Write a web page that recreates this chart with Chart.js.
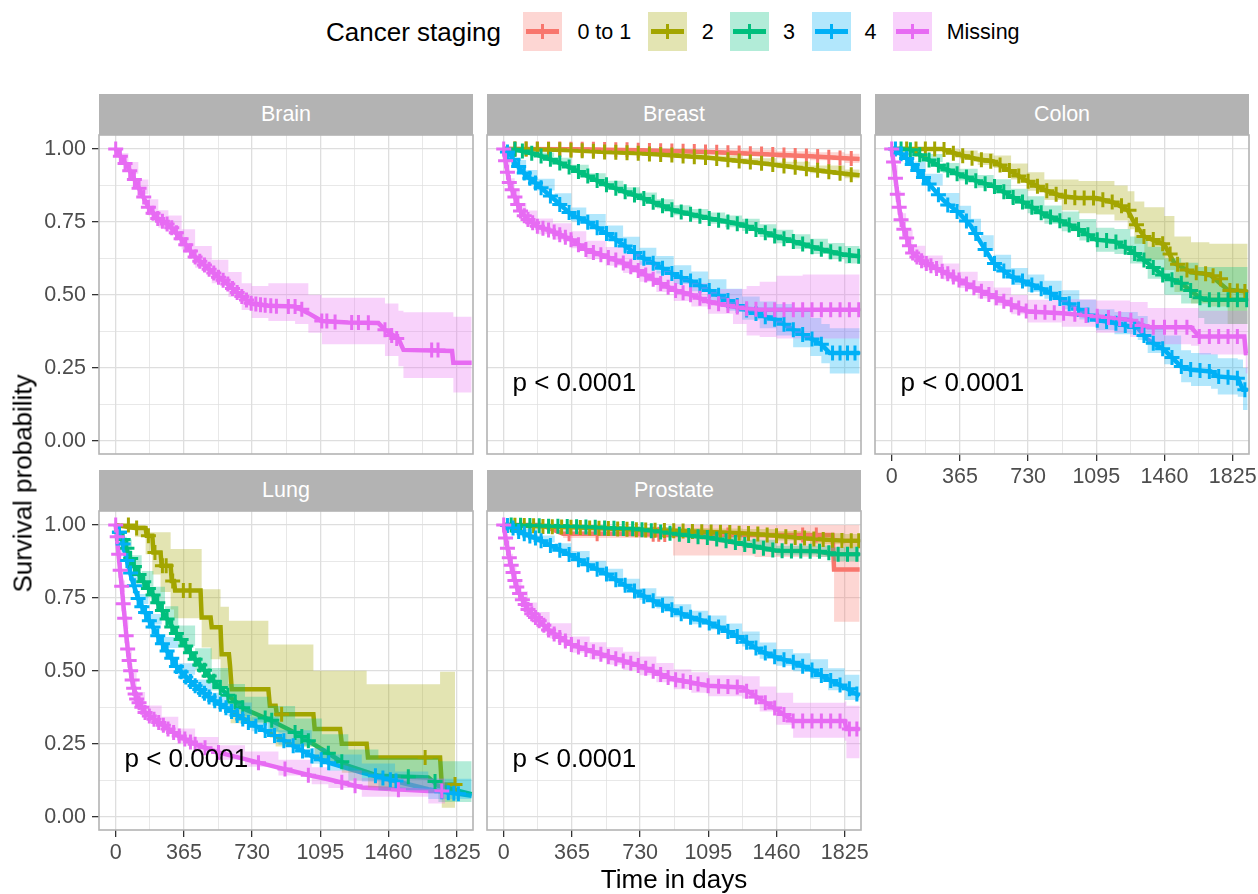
<!DOCTYPE html>
<html>
<head>
<meta charset="utf-8">
<script src="https://cdn.jsdelivr.net/npm/chart.js@4.4.0/dist/chart.umd.min.js"></script>
<style>
  body { margin: 0; background: #fff; width: 1258px; height: 894px; position: relative; overflow: hidden; font-family: 'Liberation Sans', Arial, sans-serif; }
  canvas { position: absolute; }
  .strip { position: absolute; height: 41px; line-height: 41px; background: #B3B3B3; color: #fff; font-size: 21.5px; text-align: center; }
  .lg-title { position: absolute; left: 326px; top: 18px; font-size: 26px; line-height: 29px; color: #000; }
  .lg-key { position: absolute; top: 12px; width: 39px; height: 39px; }
  .lg-key .ln { position: absolute; left: 3px; right: 3px; top: 17px; height: 5px; }
  .lg-key .vt { position: absolute; left: 18px; width: 3px; top: 12px; height: 15px; }
  .lg-text { position: absolute; top: 20px; font-size: 21.5px; line-height: 24px; color: #000; white-space: nowrap; }
  .axis-title { position: absolute; font-size: 26px; line-height: 29px; color: #000; text-align: center; white-space: nowrap; }
</style>
</head>
<body>
<script>
// categories
const stages = ['0 to 1', '2', '3', '4', 'Missing'];
const stageColors = ['#F8766D', '#A3A500', '#00BF7D', '#00B0F6', '#E76BF3'];
const panelNames = ['Brain', 'Breast', 'Colon', 'Lung', 'Prostate'];
const pLabels = ['', 'p < 0.0001', 'p < 0.0001', 'p < 0.0001', 'p < 0.0001'];

// axis ticks
const xTicks = [0, 365, 730, 1095, 1460, 1825];
const yTicks = [0, 0.25, 0.5, 0.75, 1];

// curve rows: [day, survival, lower CI, upper CI]
// censor marks: [day, survival]
const brainMissing = [
  [0, 1, 1, 1], [30, 0.97, 0.955, 0.985], [68, 0.935, 0.915, 0.955], [121, 0.87, 0.845, 0.895],
  [175, 0.80, 0.772, 0.828], [228, 0.76, 0.73, 0.79], [282, 0.74, 0.708, 0.772], [353, 0.69, 0.655, 0.725],
  [425, 0.63, 0.593, 0.667], [514, 0.58, 0.54, 0.62], [603, 0.535, 0.492, 0.578], [674, 0.494, 0.448, 0.54],
  [728, 0.47, 0.42, 0.53], [817, 0.462, 0.41, 0.54], [960, 0.46, 0.40, 0.54], [1031, 0.437, 0.37, 0.50],
  [1103, 0.41, 0.33, 0.49], [1245, 0.405, 0.33, 0.49], [1406, 0.403, 0.33, 0.49], [1441, 0.38, 0.29, 0.47],
  [1513, 0.35, 0.255, 0.445], [1540, 0.311, 0.215, 0.44], [1800, 0.307, 0.215, 0.44], [1807, 0.267, 0.165, 0.425],
  [1905, 0.267, 0.165, 0.425]
];
const brainMissingMarks = [
  [0, 1], [25, 0.975], [50, 0.95], [75, 0.925], [100, 0.895], [125, 0.865], [150, 0.835], [175, 0.80], [200, 0.78],
  [225, 0.762], [250, 0.752], [275, 0.743], [300, 0.73], [325, 0.713], [350, 0.692], [375, 0.672], [400, 0.65],
  [425, 0.63], [450, 0.615], [475, 0.602], [500, 0.588], [525, 0.575], [550, 0.56], [575, 0.55], [600, 0.537],
  [625, 0.522], [650, 0.508], [675, 0.494], [700, 0.482], [725, 0.471], [750, 0.468], [775, 0.466], [800, 0.464],
  [830, 0.462], [860, 0.461], [924, 0.46], [960, 0.46], [996, 0.45], [1103, 0.41], [1130, 0.41], [1174, 0.407],
  [1263, 0.405], [1299, 0.405], [1352, 0.404], [1441, 0.38], [1477, 0.36], [1504, 0.35], [1691, 0.311], [1725, 0.311]
];

const breastStage01 = [
  [0, 1, 1, 1], [365, 0.999, 0.995, 1], [730, 0.996, 0.99, 1], [1095, 0.99, 0.981, 0.998],
  [1460, 0.98, 0.968, 0.992], [1640, 0.975, 0.961, 0.989], [1825, 0.968, 0.952, 0.984], [1905, 0.966, 0.949, 0.983]
];
const breastStage01Marks = [
  [60, 1], [120, 1], [180, 1], [240, 1], [300, 1], [360, 0.999], [420, 0.999], [480, 0.999], [540, 0.998], [600, 0.997],
  [660, 0.997], [720, 0.996], [780, 0.995], [840, 0.994], [900, 0.993], [960, 0.992], [1020, 0.991], [1080, 0.99],
  [1140, 0.989], [1200, 0.987], [1260, 0.986], [1320, 0.984], [1380, 0.983], [1440, 0.981], [1500, 0.979],
  [1560, 0.978], [1620, 0.976], [1680, 0.974], [1740, 0.972], [1800, 0.969], [1860, 0.967]
];
const breastStage2 = [
  [0, 1, 1, 1], [180, 0.999, 0.996, 1], [365, 0.996, 0.992, 1], [548, 0.99, 0.985, 0.995], [730, 0.985, 0.979, 0.991],
  [912, 0.978, 0.971, 0.985], [1095, 0.97, 0.962, 0.978], [1278, 0.958, 0.948, 0.968], [1460, 0.945, 0.934, 0.956],
  [1640, 0.93, 0.917, 0.943], [1825, 0.915, 0.9, 0.93], [1905, 0.91, 0.894, 0.926]
];
const breastStage2Marks = [
  [60, 1], [120, 1], [180, 0.999], [240, 0.998], [300, 0.997], [360, 0.996], [420, 0.994], [480, 0.992], [540, 0.99],
  [600, 0.989], [660, 0.987], [720, 0.985], [780, 0.983], [840, 0.981], [900, 0.979], [960, 0.976], [1020, 0.973],
  [1080, 0.971], [1140, 0.967], [1200, 0.963], [1260, 0.959], [1320, 0.955], [1380, 0.951], [1440, 0.947],
  [1500, 0.942], [1560, 0.937], [1620, 0.932], [1680, 0.927], [1740, 0.922], [1800, 0.917], [1860, 0.912]
];
const breastStage3 = [
  [0, 1, 1, 1], [68, 0.998, 0.99, 1], [180, 0.98, 0.972, 0.988], [270, 0.96, 0.95, 0.97], [362, 0.935, 0.924, 0.946],
  [455, 0.905, 0.893, 0.917], [546, 0.878, 0.865, 0.891], [640, 0.855, 0.841, 0.869], [728, 0.836, 0.821, 0.851],
  [820, 0.812, 0.796, 0.828], [910, 0.79, 0.773, 0.807], [1000, 0.776, 0.758, 0.794], [1094, 0.763, 0.744, 0.782],
  [1185, 0.752, 0.732, 0.772], [1276, 0.74, 0.719, 0.761], [1370, 0.72, 0.698, 0.742], [1459, 0.70, 0.677, 0.723],
  [1550, 0.683, 0.658, 0.708], [1641, 0.666, 0.64, 0.692], [1735, 0.65, 0.622, 0.678], [1825, 0.637, 0.607, 0.667],
  [1905, 0.632, 0.60, 0.664]
];
const breastStage3Marks = [
  [60, 0.999], [100, 0.993], [150, 0.985], [200, 0.976], [250, 0.965], [300, 0.952], [350, 0.938], [400, 0.923],
  [450, 0.907], [500, 0.892], [550, 0.877], [600, 0.865], [650, 0.853], [700, 0.842], [750, 0.83], [800, 0.817],
  [850, 0.805], [900, 0.792], [950, 0.784], [1000, 0.776], [1050, 0.769], [1100, 0.762], [1150, 0.756], [1200, 0.75],
  [1250, 0.744], [1300, 0.735], [1350, 0.724], [1400, 0.713], [1450, 0.702], [1500, 0.692], [1550, 0.683],
  [1600, 0.674], [1650, 0.665], [1700, 0.656], [1750, 0.648], [1800, 0.64], [1850, 0.635], [1900, 0.632]
];
const breastStage4 = [
  [0, 1, 1, 1], [30, 0.985, 0.975, 0.995], [68, 0.946, 0.93, 0.962], [120, 0.91, 0.892, 0.928], [180, 0.878, 0.858, 0.898],
  [273, 0.826, 0.804, 0.848], [362, 0.775, 0.751, 0.799], [442, 0.752, 0.727, 0.777], [546, 0.712, 0.686, 0.738],
  [639, 0.672, 0.645, 0.699], [728, 0.632, 0.603, 0.661], [817, 0.603, 0.573, 0.633], [910, 0.569, 0.537, 0.601],
  [1004, 0.546, 0.512, 0.58], [1094, 0.517, 0.481, 0.553], [1192, 0.483, 0.445, 0.521], [1276, 0.454, 0.414, 0.494],
  [1370, 0.431, 0.385, 0.477], [1459, 0.414, 0.36, 0.468], [1549, 0.38, 0.32, 0.45], [1641, 0.351, 0.29, 0.42],
  [1700, 0.33, 0.265, 0.40], [1745, 0.30, 0.23, 0.385], [1905, 0.30, 0.225, 0.39]
];
const breastStage4Marks = [
  [20, 0.99], [50, 0.965], [80, 0.94], [110, 0.918], [140, 0.9], [170, 0.883], [200, 0.867], [250, 0.839], [300, 0.81],
  [350, 0.782], [400, 0.764], [450, 0.749], [500, 0.73], [550, 0.71], [600, 0.689], [650, 0.667], [700, 0.645],
  [750, 0.625], [800, 0.608], [850, 0.591], [900, 0.573], [950, 0.559], [1000, 0.547], [1050, 0.531], [1100, 0.515],
  [1150, 0.498], [1200, 0.48], [1250, 0.463], [1300, 0.448], [1350, 0.436], [1400, 0.425], [1450, 0.416],
  [1500, 0.399], [1550, 0.38], [1600, 0.364], [1650, 0.348], [1700, 0.33], [1760, 0.30], [1800, 0.30], [1840, 0.30],
  [1880, 0.30]
];
const breastMissing = [
  [0, 1, 1, 1], [14, 0.94, 0.925, 0.955], [32, 0.88, 0.86, 0.90], [59, 0.837, 0.815, 0.86], [86, 0.79, 0.765, 0.815],
  [121, 0.763, 0.737, 0.789], [180, 0.735, 0.708, 0.762], [264, 0.717, 0.689, 0.745], [362, 0.689, 0.66, 0.718],
  [442, 0.654, 0.623, 0.685], [546, 0.632, 0.60, 0.664], [639, 0.609, 0.575, 0.643], [728, 0.58, 0.545, 0.615],
  [817, 0.546, 0.51, 0.582], [910, 0.517, 0.479, 0.555], [1004, 0.50, 0.46, 0.54], [1094, 0.477, 0.435, 0.52],
  [1227, 0.46, 0.40, 0.52], [1300, 0.452, 0.36, 0.53], [1370, 0.449, 0.355, 0.545], [1460, 0.449, 0.35, 0.565],
  [1600, 0.449, 0.35, 0.57], [1905, 0.449, 0.35, 0.57]
];
const breastMissingMarks = [
  [0, 1], [10, 0.96], [20, 0.92], [30, 0.885], [45, 0.86], [60, 0.835], [75, 0.81], [90, 0.787], [110, 0.771],
  [130, 0.758], [155, 0.747], [180, 0.735], [210, 0.728], [240, 0.722], [270, 0.715], [300, 0.706], [330, 0.697],
  [360, 0.689], [400, 0.672], [440, 0.655], [480, 0.645], [520, 0.637], [560, 0.628], [600, 0.619], [640, 0.609],
  [680, 0.596], [720, 0.583], [760, 0.568], [800, 0.553], [840, 0.539], [880, 0.526], [920, 0.515], [960, 0.507],
  [1000, 0.50], [1050, 0.488], [1100, 0.476], [1150, 0.469], [1200, 0.463], [1250, 0.458], [1300, 0.452],
  [1350, 0.45], [1400, 0.449], [1450, 0.449], [1500, 0.449], [1550, 0.449], [1600, 0.449], [1650, 0.449],
  [1700, 0.449], [1750, 0.449], [1800, 0.449], [1850, 0.449], [1900, 0.449]
];

const colonStage2 = [
  [0, 1, 1, 1], [270, 1.0, 0.99, 1], [365, 0.98, 0.965, 0.995], [460, 0.965, 0.945, 0.985], [546, 0.957, 0.935, 0.978],
  [639, 0.923, 0.895, 0.95], [728, 0.889, 0.857, 0.92], [817, 0.86, 0.825, 0.895], [910, 0.838, 0.79, 0.895],
  [1000, 0.832, 0.78, 0.89], [1094, 0.832, 0.775, 0.89], [1192, 0.815, 0.755, 0.875], [1263, 0.79, 0.725, 0.855],
  [1299, 0.746, 0.675, 0.82], [1352, 0.70, 0.62, 0.80], [1459, 0.672, 0.585, 0.77], [1513, 0.609, 0.51, 0.70],
  [1602, 0.577, 0.47, 0.68], [1700, 0.57, 0.46, 0.675], [1798, 0.517, 0.40, 0.675], [1905, 0.511, 0.39, 0.675]
];
const colonStage2Marks = [
  [80, 1], [130, 1], [180, 1], [230, 1], [280, 0.998], [330, 0.985], [380, 0.977], [430, 0.968], [480, 0.963],
  [530, 0.958], [580, 0.945], [630, 0.926], [680, 0.907], [730, 0.889], [780, 0.872], [830, 0.857], [880, 0.845],
  [930, 0.836], [980, 0.833], [1030, 0.832], [1080, 0.832], [1130, 0.826], [1180, 0.818], [1230, 0.805],
  [1270, 0.79], [1310, 0.74], [1350, 0.70], [1400, 0.69], [1450, 0.675], [1490, 0.64], [1530, 0.605], [1580, 0.585],
  [1630, 0.576], [1680, 0.572], [1720, 0.565], [1760, 0.555], [1810, 0.515], [1850, 0.513], [1890, 0.511]
];
const colonStage3 = [
  [0, 1, 1, 1], [95, 1.0, 0.993, 1], [180, 0.969, 0.955, 0.983], [273, 0.935, 0.918, 0.952], [362, 0.912, 0.892, 0.932],
  [460, 0.889, 0.867, 0.911], [546, 0.872, 0.848, 0.896], [639, 0.838, 0.812, 0.864], [728, 0.809, 0.78, 0.838],
  [817, 0.775, 0.744, 0.806], [910, 0.752, 0.718, 0.786], [1004, 0.723, 0.686, 0.76], [1094, 0.689, 0.648, 0.73],
  [1192, 0.683, 0.64, 0.726], [1276, 0.654, 0.607, 0.70], [1370, 0.609, 0.555, 0.665], [1459, 0.563, 0.50, 0.625],
  [1549, 0.54, 0.47, 0.61], [1641, 0.494, 0.42, 0.595], [1673, 0.483, 0.40, 0.595], [1905, 0.483, 0.395, 0.595]
];
const colonStage3Marks = [
  [50, 1], [100, 0.997], [150, 0.98], [200, 0.962], [250, 0.944], [300, 0.928], [350, 0.915], [400, 0.904],
  [450, 0.891], [500, 0.881], [550, 0.871], [600, 0.853], [650, 0.834], [700, 0.818], [750, 0.8], [800, 0.781],
  [850, 0.767], [900, 0.754], [950, 0.739], [1000, 0.724], [1050, 0.706], [1100, 0.689], [1150, 0.686], [1200, 0.681],
  [1250, 0.663], [1300, 0.642], [1350, 0.619], [1400, 0.594], [1450, 0.568], [1500, 0.552], [1550, 0.54],
  [1600, 0.515], [1650, 0.49], [1700, 0.483], [1750, 0.483], [1800, 0.483], [1850, 0.483], [1900, 0.483]
];
const colonStage4 = [
  [0, 1, 1, 1], [14, 1.0, 0.995, 1], [68, 0.975, 0.962, 0.988], [121, 0.94, 0.923, 0.957], [180, 0.895, 0.875, 0.915],
  [273, 0.826, 0.803, 0.849], [362, 0.78, 0.755, 0.805], [425, 0.735, 0.709, 0.761], [478, 0.677, 0.65, 0.704],
  [546, 0.609, 0.581, 0.637], [639, 0.563, 0.534, 0.592], [728, 0.54, 0.51, 0.57], [817, 0.517, 0.486, 0.548],
  [910, 0.483, 0.45, 0.516], [1004, 0.449, 0.415, 0.483], [1094, 0.414, 0.378, 0.45], [1192, 0.403, 0.365, 0.441],
  [1317, 0.386, 0.345, 0.427], [1370, 0.346, 0.30, 0.392], [1459, 0.311, 0.262, 0.36], [1549, 0.254, 0.20, 0.31],
  [1602, 0.243, 0.187, 0.30], [1709, 0.237, 0.178, 0.296], [1745, 0.22, 0.158, 0.282], [1852, 0.214, 0.15, 0.278],
  [1880, 0.174, 0.105, 0.25], [1905, 0.174, 0.105, 0.25]
];
const colonStage4Marks = [
  [20, 1], [50, 0.984], [80, 0.967], [110, 0.947], [140, 0.926], [170, 0.902], [200, 0.88], [250, 0.843], [300, 0.808],
  [350, 0.786], [400, 0.753], [450, 0.71], [500, 0.655], [550, 0.607], [600, 0.582], [650, 0.561], [700, 0.547],
  [750, 0.534], [800, 0.521], [850, 0.505], [900, 0.487], [950, 0.469], [1000, 0.45], [1050, 0.431], [1100, 0.413],
  [1150, 0.408], [1200, 0.402], [1250, 0.395], [1300, 0.388], [1350, 0.36], [1400, 0.334], [1450, 0.315],
  [1500, 0.285], [1550, 0.254], [1600, 0.244], [1650, 0.24], [1700, 0.237], [1750, 0.22], [1800, 0.217],
  [1850, 0.214], [1890, 0.174]
];
const colonMissing = [
  [0, 1, 1, 1], [14, 0.93, 0.915, 0.945], [32, 0.837, 0.817, 0.857], [50, 0.757, 0.734, 0.78], [77, 0.70, 0.676, 0.724],
  [112, 0.643, 0.618, 0.668], [180, 0.609, 0.583, 0.635], [273, 0.58, 0.553, 0.607], [362, 0.551, 0.523, 0.579],
  [460, 0.517, 0.487, 0.547], [546, 0.494, 0.463, 0.525], [639, 0.466, 0.433, 0.499], [728, 0.443, 0.405, 0.483],
  [910, 0.437, 0.39, 0.485], [1094, 0.426, 0.37, 0.48], [1276, 0.414, 0.355, 0.475], [1370, 0.389, 0.33, 0.455],
  [1602, 0.389, 0.325, 0.455], [1646, 0.357, 0.295, 0.445], [1887, 0.357, 0.29, 0.445], [1895, 0.30, 0.23, 0.445],
  [1905, 0.30, 0.23, 0.445]
];
const colonMissingMarks = [
  [0, 1], [10, 0.955], [20, 0.9], [30, 0.845], [40, 0.8], [50, 0.757], [65, 0.725], [80, 0.695], [95, 0.668],
  [112, 0.643], [135, 0.63], [160, 0.617], [185, 0.607], [210, 0.6], [240, 0.59], [270, 0.581], [300, 0.572],
  [330, 0.561], [360, 0.551], [400, 0.537], [440, 0.524], [480, 0.512], [520, 0.501], [560, 0.49], [600, 0.478],
  [640, 0.466], [680, 0.455], [720, 0.444], [770, 0.441], [820, 0.44], [870, 0.438], [920, 0.437], [980, 0.433],
  [1040, 0.429], [1100, 0.426], [1160, 0.422], [1220, 0.418], [1280, 0.413], [1340, 0.395], [1400, 0.389],
  [1460, 0.389], [1520, 0.389], [1580, 0.389], [1646, 0.357], [1700, 0.357], [1750, 0.357], [1800, 0.357],
  [1850, 0.357]
];

const lungStage2 = [
  [0, 1, 1, 1], [103, 0.99, 0.96, 1], [160, 0.99, 0.90, 0.975], [166, 0.963, 0.90, 0.975], [196, 0.963, 0.83, 0.975],
  [202, 0.906, 0.83, 0.975], [240, 0.906, 0.77, 0.975], [246, 0.86, 0.77, 0.975], [294, 0.86, 0.71, 0.918],
  [300, 0.808, 0.71, 0.918], [312, 0.808, 0.68, 0.918], [318, 0.775, 0.68, 0.918], [454, 0.775, 0.68, 0.918],
  [460, 0.683, 0.58, 0.78], [508, 0.683, 0.54, 0.78], [514, 0.649, 0.54, 0.78], [561, 0.649, 0.44, 0.72],
  [567, 0.557, 0.44, 0.72], [606, 0.557, 0.40, 0.672], [612, 0.517, 0.40, 0.672], [615, 0.517, 0.32, 0.672],
  [621, 0.437, 0.32, 0.672], [817, 0.437, 0.32, 0.59], [825, 0.38, 0.27, 0.59], [856, 0.38, 0.24, 0.59],
  [862, 0.351, 0.24, 0.59], [1058, 0.351, 0.24, 0.50], [1065, 0.30, 0.19, 0.50], [1201, 0.30, 0.19, 0.50],
  [1210, 0.25, 0.15, 0.50], [1343, 0.25, 0.15, 0.454], [1350, 0.203, 0.10, 0.454], [1736, 0.203, 0.10, 0.497],
  [1745, 0.11, 0.03, 0.497], [1816, 0.11, 0.03, 0.497]
];
const lungStage2Marks = [
  [68, 1], [112, 0.99], [175, 0.963], [210, 0.906], [250, 0.86], [270, 0.86], [305, 0.808], [362, 0.775],
  [398, 0.775], [888, 0.351], [1656, 0.203], [1816, 0.11]
];
const lungStage3 = [
  [0, 1, 1, 1], [50, 0.93, 0.91, 0.95], [86, 0.872, 0.848, 0.896], [139, 0.815, 0.788, 0.842], [202, 0.758, 0.728, 0.788],
  [264, 0.689, 0.657, 0.721], [335, 0.62, 0.585, 0.655], [425, 0.54, 0.503, 0.577], [514, 0.471, 0.432, 0.51],
  [603, 0.414, 0.373, 0.455], [692, 0.368, 0.325, 0.411], [817, 0.334, 0.289, 0.379], [960, 0.288, 0.24, 0.336],
  [1103, 0.231, 0.18, 0.282], [1245, 0.174, 0.125, 0.23], [1406, 0.14, 0.09, 0.20], [1673, 0.134, 0.08, 0.20],
  [1727, 0.105, 0.05, 0.19], [1905, 0.077, 0.025, 0.215]
];
const lungStage3Marks = [
  [20, 0.975], [40, 0.95], [60, 0.92], [80, 0.885], [100, 0.858], [125, 0.83], [150, 0.805], [175, 0.782], [200, 0.76],
  [225, 0.733], [250, 0.707], [275, 0.678], [300, 0.65], [325, 0.628], [350, 0.607], [375, 0.585], [400, 0.562],
  [425, 0.54], [450, 0.52], [475, 0.502], [500, 0.482], [525, 0.464], [560, 0.443], [600, 0.416], [640, 0.393],
  [680, 0.373], [800, 0.338], [835, 0.33], [960, 0.288], [996, 0.275], [1031, 0.26], [1138, 0.217], [1210, 0.188],
  [1566, 0.137], [1709, 0.12]
];
const lungStage4 = [
  [0, 1, 1, 1], [32, 0.95, 0.94, 0.96], [59, 0.88, 0.866, 0.894], [86, 0.815, 0.799, 0.831], [121, 0.746, 0.729, 0.763],
  [175, 0.677, 0.659, 0.695], [246, 0.597, 0.578, 0.616], [335, 0.506, 0.486, 0.526], [425, 0.449, 0.428, 0.47],
  [514, 0.403, 0.381, 0.425], [603, 0.368, 0.345, 0.391], [728, 0.317, 0.293, 0.341], [871, 0.271, 0.246, 0.296],
  [1049, 0.208, 0.181, 0.235], [1138, 0.185, 0.157, 0.213], [1317, 0.151, 0.12, 0.182], [1495, 0.122, 0.09, 0.155],
  [1673, 0.094, 0.06, 0.13], [1905, 0.071, 0.035, 0.12]
];
const lungStage4Marks = [
  [20, 0.975], [40, 0.935], [60, 0.878], [80, 0.835], [100, 0.792], [120, 0.748], [140, 0.72], [160, 0.7], [180, 0.672],
  [200, 0.65], [225, 0.62], [250, 0.593], [275, 0.568], [300, 0.543], [325, 0.515], [350, 0.497], [375, 0.479],
  [400, 0.463], [425, 0.449], [450, 0.436], [475, 0.423], [500, 0.41], [530, 0.397], [560, 0.385], [590, 0.373],
  [620, 0.36], [650, 0.347], [680, 0.335], [710, 0.323], [750, 0.31], [800, 0.295], [850, 0.278], [900, 0.26],
  [950, 0.243], [1000, 0.225], [1050, 0.208], [1100, 0.195], [1140, 0.185], [1390, 0.14], [1430, 0.132],
  [1470, 0.126], [1500, 0.122], [1745, 0.085], [1780, 0.082], [1810, 0.08], [1834, 0.078]
];
const lungMissing = [
  [0, 1, 1, 1], [14, 0.906, 0.89, 0.922], [32, 0.79, 0.77, 0.81], [50, 0.666, 0.644, 0.688], [68, 0.551, 0.528, 0.574],
  [86, 0.471, 0.447, 0.495], [112, 0.403, 0.379, 0.427], [157, 0.357, 0.333, 0.381], [246, 0.317, 0.292, 0.342],
  [335, 0.277, 0.252, 0.302], [425, 0.248, 0.223, 0.273], [550, 0.22, 0.195, 0.245], [692, 0.197, 0.171, 0.223],
  [871, 0.168, 0.141, 0.195], [1049, 0.14, 0.111, 0.169], [1138, 0.128, 0.098, 0.158], [1317, 0.10, 0.068, 0.132],
  [1673, 0.088, 0.045, 0.131], [1763, 0.088, 0.037, 0.134]
];
const lungMissingMarks = [
  [0, 1], [8, 0.96], [16, 0.9], [24, 0.845], [32, 0.79], [40, 0.73], [48, 0.68], [56, 0.62], [64, 0.575], [72, 0.535],
  [80, 0.5], [88, 0.468], [96, 0.44], [104, 0.42], [112, 0.403], [125, 0.39], [140, 0.375], [157, 0.357], [180, 0.345],
  [205, 0.334], [230, 0.323], [255, 0.313], [280, 0.3], [310, 0.288], [340, 0.276], [370, 0.266], [400, 0.256],
  [425, 0.248], [478, 0.236], [550, 0.22], [764, 0.185], [906, 0.163], [1031, 0.142], [1210, 0.118], [1281, 0.106],
  [1513, 0.092], [1745, 0.088]
];

const prostateStage01 = [
  [0, 1, 1, 1], [200, 1, 0.99, 1], [318, 0.97, 0.955, 0.99], [600, 0.97, 0.955, 0.99], [906, 0.966, 0.895, 1],
  [1343, 0.966, 0.89, 1], [1760, 0.966, 0.885, 1], [1768, 0.847, 0.668, 1], [1905, 0.847, 0.668, 1]
];
const prostateStage01Marks = [
  [350, 0.97], [500, 0.97], [800, 0.968], [830, 0.968], [862, 0.967], [1200, 0.966], [1600, 0.966], [1673, 0.966]
];
const prostateStage2 = [
  [0, 1, 1, 1], [180, 0.996, 0.992, 1], [365, 0.992, 0.986, 0.998], [548, 0.988, 0.981, 0.995],
  [730, 0.983, 0.974, 0.992], [912, 0.98, 0.97, 0.99], [1095, 0.976, 0.964, 0.988], [1278, 0.972, 0.958, 0.986],
  [1460, 0.963, 0.947, 0.979], [1640, 0.953, 0.934, 0.972], [1825, 0.946, 0.923, 0.969], [1905, 0.946, 0.92, 0.97]
];
const prostateStage2Marks = [
  [60, 0.999], [110, 0.998], [160, 0.997], [210, 0.995], [260, 0.994], [310, 0.993], [360, 0.992], [410, 0.991],
  [460, 0.99], [510, 0.989], [560, 0.988], [610, 0.986], [660, 0.985], [710, 0.984], [760, 0.983], [810, 0.982],
  [860, 0.981], [910, 0.98], [960, 0.979], [1010, 0.978], [1060, 0.977], [1110, 0.976], [1160, 0.975], [1210, 0.974],
  [1260, 0.972], [1310, 0.971], [1360, 0.969], [1410, 0.966], [1460, 0.963], [1510, 0.96], [1560, 0.957],
  [1610, 0.955], [1660, 0.952], [1710, 0.95], [1760, 0.948], [1810, 0.947], [1860, 0.946], [1900, 0.946]
];
const prostateStage3 = [
  [0, 1, 1, 1], [121, 0.998, 0.995, 1], [362, 0.995, 0.99, 1], [550, 0.99, 0.984, 0.996], [728, 0.985, 0.978, 0.992],
  [910, 0.97, 0.961, 0.979], [1094, 0.957, 0.946, 0.968], [1276, 0.935, 0.921, 0.949], [1459, 0.912, 0.895, 0.929],
  [1673, 0.91, 0.89, 0.93], [1763, 0.90, 0.876, 0.924], [1905, 0.90, 0.866, 0.934]
];
const prostateStage3Marks = [
  [40, 1], [90, 0.999], [140, 0.998], [190, 0.997], [240, 0.996], [290, 0.996], [340, 0.995], [390, 0.994],
  [440, 0.993], [490, 0.992], [540, 0.99], [590, 0.989], [640, 0.988], [690, 0.987], [740, 0.984], [790, 0.98],
  [840, 0.976], [890, 0.972], [940, 0.968], [990, 0.964], [1040, 0.96], [1090, 0.957], [1140, 0.952], [1190, 0.946],
  [1240, 0.94], [1290, 0.933], [1340, 0.927], [1390, 0.92], [1440, 0.914], [1490, 0.912], [1540, 0.911],
  [1590, 0.911], [1640, 0.91], [1690, 0.91], [1740, 0.905], [1790, 0.90], [1840, 0.90], [1890, 0.90]
];
const prostateStage4 = [
  [0, 1, 1, 1], [32, 0.995, 0.99, 1], [68, 0.98, 0.972, 0.988], [180, 0.952, 0.94, 0.964], [273, 0.923, 0.909, 0.937],
  [362, 0.895, 0.879, 0.911], [460, 0.86, 0.843, 0.877], [550, 0.832, 0.814, 0.85], [639, 0.797, 0.778, 0.816],
  [728, 0.763, 0.743, 0.783], [817, 0.735, 0.714, 0.756], [910, 0.706, 0.684, 0.728], [1004, 0.683, 0.66, 0.706],
  [1094, 0.666, 0.642, 0.69], [1192, 0.637, 0.612, 0.662], [1276, 0.609, 0.583, 0.635], [1370, 0.569, 0.541, 0.597],
  [1459, 0.546, 0.517, 0.575], [1549, 0.529, 0.498, 0.56], [1641, 0.506, 0.472, 0.54], [1736, 0.471, 0.433, 0.509],
  [1825, 0.443, 0.40, 0.486], [1905, 0.414, 0.363, 0.511]
];
const prostateStage4Marks = [
  [20, 0.998], [50, 0.99], [80, 0.978], [110, 0.97], [140, 0.962], [170, 0.955], [200, 0.946], [250, 0.93],
  [300, 0.913], [350, 0.899], [400, 0.881], [450, 0.864], [500, 0.848], [550, 0.832], [600, 0.812], [650, 0.793],
  [700, 0.774], [750, 0.756], [800, 0.74], [850, 0.725], [900, 0.709], [950, 0.696], [1000, 0.684], [1050, 0.674],
  [1100, 0.664], [1150, 0.65], [1200, 0.635], [1250, 0.618], [1300, 0.598], [1350, 0.578], [1400, 0.561],
  [1450, 0.548], [1500, 0.538], [1550, 0.529], [1600, 0.516], [1650, 0.503], [1700, 0.484], [1750, 0.467],
  [1800, 0.451], [1850, 0.438], [1890, 0.42]
];
const prostateMissing = [
  [0, 1, 1, 1], [14, 0.94, 0.925, 0.955], [32, 0.883, 0.865, 0.901], [50, 0.837, 0.817, 0.857], [68, 0.79, 0.768, 0.812],
  [95, 0.75, 0.727, 0.773], [130, 0.71, 0.686, 0.734], [180, 0.677, 0.652, 0.702], [246, 0.637, 0.611, 0.663],
  [362, 0.59, 0.562, 0.618], [460, 0.569, 0.54, 0.598], [550, 0.551, 0.521, 0.581], [639, 0.534, 0.503, 0.565],
  [728, 0.517, 0.485, 0.549], [817, 0.494, 0.461, 0.527], [910, 0.471, 0.437, 0.505], [1004, 0.46, 0.425, 0.495],
  [1094, 0.449, 0.413, 0.485], [1276, 0.443, 0.405, 0.481], [1370, 0.403, 0.36, 0.446], [1459, 0.368, 0.315, 0.425],
  [1549, 0.328, 0.27, 0.39], [1825, 0.328, 0.26, 0.395], [1834, 0.30, 0.20, 0.38], [1905, 0.30, 0.20, 0.38]
];
const prostateMissingMarks = [
  [0, 1], [10, 0.955], [20, 0.92], [30, 0.888], [40, 0.862], [50, 0.837], [60, 0.81], [70, 0.787], [85, 0.765],
  [100, 0.744], [115, 0.727], [130, 0.71], [150, 0.696], [170, 0.683], [190, 0.672], [215, 0.656], [240, 0.64],
  [270, 0.626], [300, 0.614], [330, 0.602], [362, 0.59], [400, 0.582], [440, 0.573], [480, 0.565], [520, 0.557],
  [560, 0.549], [600, 0.541], [640, 0.534], [680, 0.526], [720, 0.518], [760, 0.509], [800, 0.498], [840, 0.487],
  [880, 0.477], [920, 0.469], [960, 0.465], [1000, 0.46], [1040, 0.455], [1094, 0.449], [1150, 0.447],
  [1200, 0.446], [1250, 0.444], [1300, 0.43], [1350, 0.41], [1400, 0.39], [1450, 0.372], [1500, 0.35], [1549, 0.328],
  [1600, 0.328], [1650, 0.328], [1700, 0.328], [1750, 0.328], [1800, 0.328], [1850, 0.30], [1890, 0.30]
];

// which stages each facet has: [stage index, curve rows, censor marks]
const panelCurves = [
  [[4, brainMissing, brainMissingMarks]],
  [[0, breastStage01, breastStage01Marks], [1, breastStage2, breastStage2Marks], [2, breastStage3, breastStage3Marks],
   [3, breastStage4, breastStage4Marks], [4, breastMissing, breastMissingMarks]],
  [[1, colonStage2, colonStage2Marks], [2, colonStage3, colonStage3Marks], [3, colonStage4, colonStage4Marks],
   [4, colonMissing, colonMissingMarks]],
  [[1, lungStage2, lungStage2Marks], [2, lungStage3, lungStage3Marks], [3, lungStage4, lungStage4Marks],
   [4, lungMissing, lungMissingMarks]],
  [[0, prostateStage01, prostateStage01Marks], [1, prostateStage2, prostateStage2Marks],
   [2, prostateStage3, prostateStage3Marks], [3, prostateStage4, prostateStage4Marks],
   [4, prostateMissing, prostateMissingMarks]]
];

// page layout
const colLeft = [99, 487, 875];
const rowTop = [135, 511];
const plotW = 374, plotH = 319, stripH = 41;
const axisW = 100, axisH = 60, padTop = 22, padRight = 18;
const fontFamily = "'Liberation Sans', Arial, sans-serif";

Chart.defaults.font.family = fontFamily;

function withAlpha(hex, a) {
  const n = parseInt(hex.slice(1), 16);
  return 'rgba(' + (n >> 16) + ',' + ((n >> 8) & 255) + ',' + (n & 255) + ',' + a + ')';
}

// major ticks plus a minor line half way between
function withMinor(ticks) {
  const out = [];
  ticks.forEach((v, i) => {
    if (i > 0) out.push((v + ticks[i - 1]) / 2);
    out.push(v);
  });
  return out;
}
const xGrid = withMinor(xTicks);
const yGrid = withMinor(yTicks);

const panelFrame = {
  id: 'panelFrame',
  afterDatasetsDraw(chart, args, opts) {
    const a = chart.chartArea;
    const ctx = chart.ctx;
    ctx.save();
    if (opts.pval) {
      ctx.font = '26px ' + fontFamily;
      ctx.fillStyle = '#000';
      ctx.textBaseline = 'alphabetic';
      ctx.textAlign = 'left';
      ctx.fillText(opts.pval, chart.scales.x.getPixelForValue(47), chart.scales.y.getPixelForValue(0.2) + 9);
    }
    ctx.strokeStyle = '#B3B3B3';
    ctx.lineWidth = 1.6;
    ctx.strokeRect(a.left, a.top, a.right - a.left, a.bottom - a.top);
    ctx.restore();
  }
};

function buildDatasets(curves) {
  const sets = [];
  curves.forEach(([stage, rows, marks]) => {
    const col = stageColors[stage];
    const rank = 4 - stage;
    // survival line
    sets.push({
      data: rows.map(r => ({ x: r[0], y: r[1] })),
      borderColor: col, borderWidth: 4.5, pointRadius: 0, fill: false,
      order: 20 + rank, clip: 0
    });
    // confidence band: upper filled down to lower
    sets.push({
      data: rows.map(r => ({ x: r[0], y: r[3] })),
      stepped: true, borderColor: 'rgba(0,0,0,0)', borderWidth: 0, pointRadius: 0,
      backgroundColor: withAlpha(col, 0.3), fill: '+1',
      order: 10 + rank, clip: 0
    });
    sets.push({
      data: rows.map(r => ({ x: r[0], y: r[2] })),
      stepped: true, borderColor: 'rgba(0,0,0,0)', borderWidth: 0, pointRadius: 0, fill: false,
      order: 10 + rank, clip: 0
    });
    // censor marks
    sets.push({
      data: marks.map(m => ({ x: m[0], y: m[1] })),
      showLine: false, pointStyle: 'cross', pointRadius: 7.5, pointBorderWidth: 3,
      pointBorderColor: col, pointBackgroundColor: col,
      order: rank, clip: 0
    });
  });
  return sets;
}

function makePanel(idx) {
  const col = idx % 3, row = Math.floor(idx / 3);
  const left = colLeft[col], top = rowTop[row];
  const showY = col === 0;
  const showX = row === 1 || idx === 2;

  const cv = document.createElement('canvas');
  const w = axisW + plotW + padRight, h = padTop + plotH + axisH;
  cv.width = w; cv.height = h;
  cv.style.width = w + 'px'; cv.style.height = h + 'px';
  cv.style.left = (left - axisW) + 'px';
  cv.style.top = (top - padTop) + 'px';
  document.body.appendChild(cv);

  const strip = document.createElement('div');
  strip.className = 'strip';
  strip.style.left = left + 'px';
  strip.style.top = (top - stripH) + 'px';
  strip.style.width = plotW + 'px';
  strip.textContent = panelNames[idx];
  document.body.appendChild(strip);

  const gridOpts = (show) => ({
    color: '#DEDEDE',
    lineWidth: c => (c.index % 2 === 0 ? 1.3 : 0.7),
    drawTicks: show,
    tickLength: 7,
    tickWidth: 1.3,
    tickColor: c => (c.index % 2 === 0 ? '#333333' : 'rgba(0,0,0,0)')
  });

  new Chart(cv, {
    type: 'line',
    data: { datasets: buildDatasets(panelCurves[idx]) },
    options: {
      responsive: false,
      animation: false,
      events: [],
      layout: { padding: { top: padTop, right: padRight, left: 0, bottom: 0 } },
      plugins: {
        legend: { display: false },
        tooltip: { enabled: false },
        panelFrame: { pval: pLabels[idx] }
      },
      scales: {
        x: {
          type: 'linear', min: -89.4, max: 1912.2,
          afterBuildTicks: s => { s.ticks = xGrid.map(v => ({ value: v })); },
          afterFit: s => { s.height = axisH; },
          border: { display: false },
          grid: gridOpts(showX),
          ticks: {
            display: showX, autoSkip: false, maxRotation: 0, minRotation: 0, padding: 3,
            color: '#4D4D4D', font: { size: 21.5 },
            callback: (v, i) => (i % 2 === 0 ? String(v) : '')
          }
        },
        y: {
          type: 'linear', min: -0.046, max: 1.048,
          afterBuildTicks: s => { s.ticks = yGrid.map(v => ({ value: v })); },
          afterFit: s => { s.width = axisW; },
          border: { display: false },
          grid: gridOpts(showY),
          ticks: {
            display: showY, padding: 6,
            color: '#4D4D4D', font: { size: 21.5 },
            callback: (v, i) => (i % 2 === 0 ? v.toFixed(2) : '')
          }
        }
      }
    },
    plugins: [panelFrame]
  });
}

panelNames.forEach((n, i) => makePanel(i));

// legend
const legendBoxLeft = [523, 648, 730, 812, 893];
const legendTextLeft = [577.4, 701.8, 783, 864.5, 946.7];
const lgTitle = document.createElement('div');
lgTitle.className = 'lg-title';
lgTitle.textContent = 'Cancer staging';
document.body.appendChild(lgTitle);
stages.forEach((s, i) => {
  const key = document.createElement('div');
  key.className = 'lg-key';
  key.style.left = legendBoxLeft[i] + 'px';
  key.style.background = withAlpha(stageColors[i], 0.3);
  const ln = document.createElement('div');
  ln.className = 'ln';
  ln.style.background = stageColors[i];
  const vt = document.createElement('div');
  vt.className = 'vt';
  vt.style.background = stageColors[i];
  key.appendChild(ln);
  key.appendChild(vt);
  document.body.appendChild(key);
  const tx = document.createElement('div');
  tx.className = 'lg-text';
  tx.style.left = legendTextLeft[i] + 'px';
  tx.textContent = s;
  document.body.appendChild(tx);
});

// axis titles
const xTitle = document.createElement('div');
xTitle.className = 'axis-title';
xTitle.style.left = '524px';
xTitle.style.width = '300px';
xTitle.style.top = '865px';
xTitle.textContent = 'Time in days';
document.body.appendChild(xTitle);

const yTitle = document.createElement('div');
yTitle.className = 'axis-title';
yTitle.style.width = '400px';
yTitle.style.left = (23.3 - 200) + 'px';
yTitle.style.top = (483 - 14.5) + 'px';
yTitle.style.transform = 'rotate(-90deg)';
yTitle.textContent = 'Survival probability';
document.body.appendChild(yTitle);
</script>
</body>
</html>
